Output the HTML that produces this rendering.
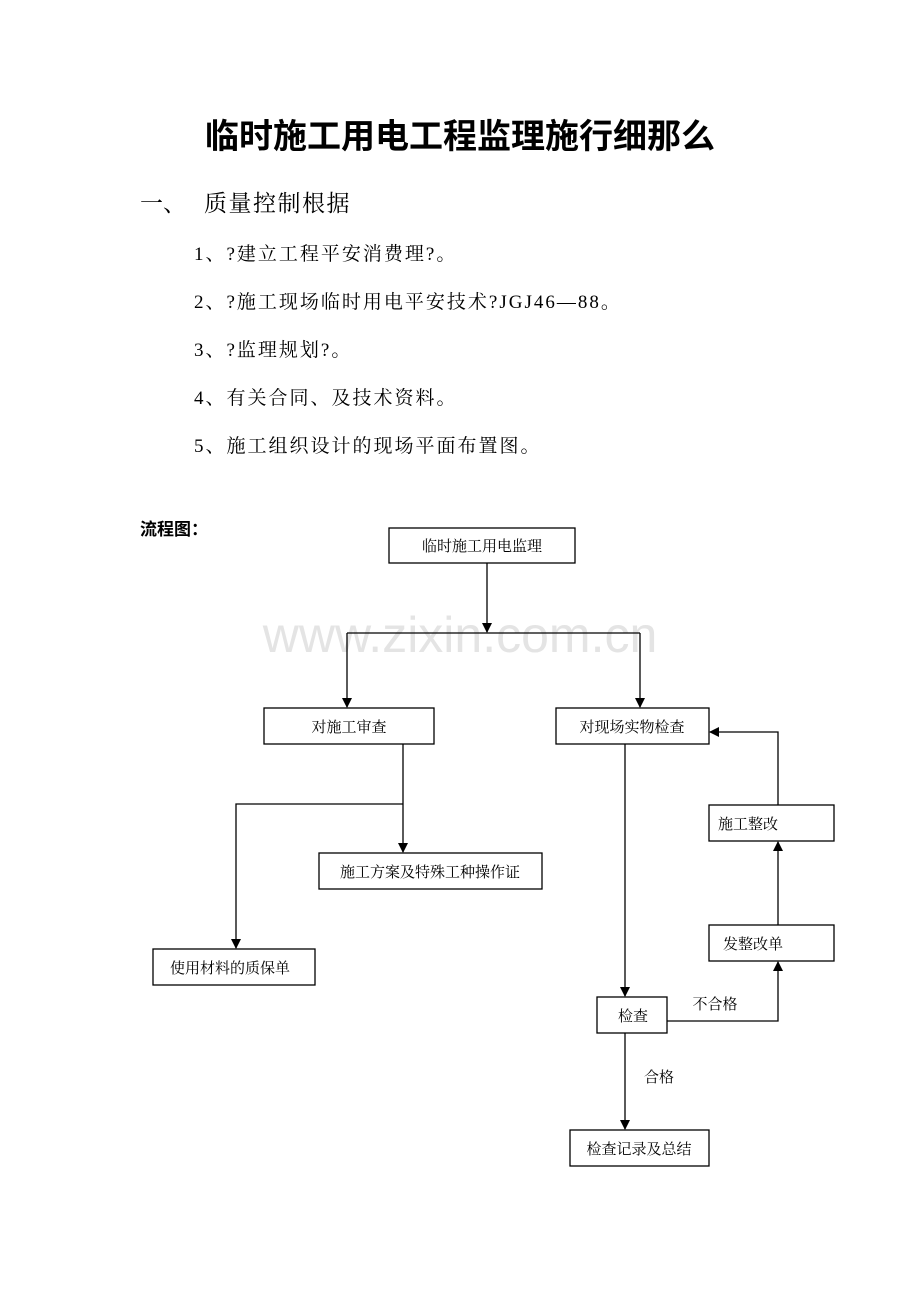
<!DOCTYPE html>
<html><head><meta charset="utf-8"><style>
html,body{margin:0;padding:0;background:#fff}
svg{display:block}
</style></head><body>
<svg width="920" height="1302" viewBox="0 0 920 1302" xmlns="http://www.w3.org/2000/svg">
<defs><marker id="a" markerWidth="10" markerHeight="10" refX="9" refY="5" orient="auto" markerUnits="userSpaceOnUse"><path d="M0,0 L10,5 L0,10 z" fill="#000"/></marker></defs>
<text x="460" y="148" text-anchor="middle" font-family="'Liberation Sans','Noto Sans CJK SC',sans-serif" font-weight="bold" font-size="34" fill="#000">临时施工用电工程监理施行细那么</text>
<text x="140" y="211" font-family="'Liberation Serif','Noto Serif CJK SC',serif" font-size="23">一、</text>
<text x="204" y="211" font-family="'Liberation Serif','Noto Serif CJK SC',serif" font-size="23" letter-spacing="1.5">质量控制根据</text>
<g font-family="'Liberation Serif','Noto Serif CJK SC',serif" font-size="19" letter-spacing="2" fill="#000">
<text x="194" y="260">1、?建立工程平安消费理?。</text>
<text x="194" y="308">2、?施工现场临时用电平安技术?JGJ46—88。</text>
<text x="194" y="356">3、?监理规划?。</text>
<text x="194" y="404">4、有关合同、及技术资料。</text>
<text x="194" y="452">5、施工组织设计的现场平面布置图。</text>
</g>
<text x="140" y="535" font-family="'Liberation Sans','Noto Sans CJK SC',sans-serif" font-weight="bold" font-size="17">流程图：</text>
<text x="460" y="652" text-anchor="middle" font-family="'Liberation Sans',sans-serif" font-size="50" fill="#e4e4e4">www.zixin.com.cn</text>
<g fill="none" stroke="#000" stroke-width="1.3">
<rect x="389" y="528" width="186" height="35"/>
<rect x="264" y="708" width="170" height="36"/>
<rect x="556" y="708" width="153" height="36"/>
<rect x="319" y="853" width="223" height="36"/>
<rect x="153" y="949" width="162" height="36"/>
<rect x="709" y="805" width="125" height="36"/>
<rect x="709" y="925" width="125" height="36"/>
<rect x="597" y="997" width="70" height="36"/>
<rect x="570" y="1130" width="139" height="36"/>
<path d="M487 563 V632" marker-end="url(#a)"/>
<path d="M347 633 H640"/>
<path d="M347 633 V707" marker-end="url(#a)"/>
<path d="M640 633 V707" marker-end="url(#a)"/>
<path d="M403 744 V852" marker-end="url(#a)"/>
<path d="M403 804 H236 V948" marker-end="url(#a)"/>
<path d="M625 744 V996" marker-end="url(#a)"/>
<path d="M667 1021 H778 V962" marker-end="url(#a)"/>
<path d="M778 925 V842" marker-end="url(#a)"/>
<path d="M778 805 V732 H710" marker-end="url(#a)"/>
<path d="M625 1033 V1129" marker-end="url(#a)"/>
</g>
<g font-family="'Liberation Serif','Noto Serif CJK SC',serif" font-size="15" fill="#000" text-anchor="middle">
<text x="482" y="551">临时施工用电监理</text>
<text x="349" y="732">对施工审查</text>
<text x="632" y="732">对现场实物检查</text>
<text x="430" y="877">施工方案及特殊工种操作证</text>
<text x="230" y="973">使用材料的质保单</text>
<text x="748" y="829">施工整改</text>
<text x="753" y="949">发整改单</text>
<text x="633" y="1021">检查</text>
<text x="639" y="1154">检查记录及总结</text>
<text x="715" y="1009">不合格</text>
<text x="659" y="1082">合格</text>
</g>
</svg>
</body></html>
